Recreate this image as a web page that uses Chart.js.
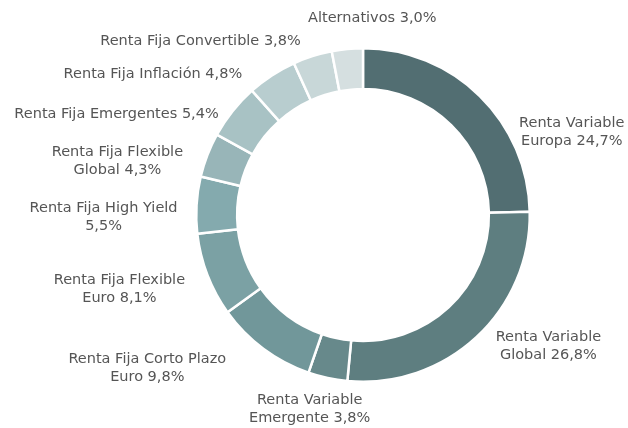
<!DOCTYPE html>
<html>
<head>
<meta charset="utf-8">
<script src="https://cdn.jsdelivr.net/npm/chart.js@4/dist/chart.umd.min.js"></script>
<style>
html,body{margin:0;padding:0;background:#fff;font-family:"DejaVu Sans";}
#wrap{width:628px;height:428px;position:relative;}
</style>
</head>
<body>
<div id="wrap"><canvas id="c"></canvas></div>
<script>
// Categories (multi-line labels) and values (%)
const categories = [
  ["Renta Variable", "Europa"],
  ["Renta Variable", "Global"],
  ["Renta Variable", "Emergente"],
  ["Renta Fija Corto Plazo", "Euro"],
  ["Renta Fija Flexible", "Euro"],
  ["Renta Fija High Yield", ""],
  ["Renta Fija Flexible", "Global"],
  ["Renta Fija Emergentes"],
  ["Renta Fija Inflación"],
  ["Renta Fija Convertible"],
  ["Alternativos"]
];
const values = [24.7, 26.8, 3.8, 9.8, 8.1, 5.5, 4.3, 5.4, 4.8, 3.8, 3.0];

const colors = [
  "#526e72", "#5e7e80", "#67898b", "#71979a", "#7ba1a4",
  "#84aaae", "#98b5b8", "#a8c2c4", "#b8cdcf", "#c8d7d8", "#d5dfe0"
];

// label position tweaks relative to arc outer mid-point (style, not data)
const labelOffsets = [
  [92, 36], [72, 9], [-18, 31], [-116, 20], [-88, 14],
  [-93, 12], [-90, 6], [-116, 3], [-119, -1], [-112, -15], [25, -31]
];

function fmt(v){ return v.toFixed(1).replace('.', ',') + '%'; }

const labelPlugin = {
  id: 'outerLabels',
  afterDatasetsDraw(chart) {
    const ctx = chart.ctx;
    const meta = chart.getDatasetMeta(0);
    ctx.save();
    ctx.font = '14.5px "DejaVu Sans"';
    ctx.fillStyle = '#555555';
    ctx.textAlign = 'center';
    ctx.textBaseline = 'middle';
    const lh = 18;
    meta.data.forEach((arc, i) => {
      const p = arc.getProps(['x','y','startAngle','endAngle','outerRadius'], true);
      const mid = (p.startAngle + p.endAngle) / 2;
      const ax = p.x + Math.cos(mid) * p.outerRadius + labelOffsets[i][0];
      const ay = p.y + Math.sin(mid) * p.outerRadius + labelOffsets[i][1];
      const lines = categories[i].slice();
      const last = lines.length - 1;
      lines[last] = (lines[last] ? lines[last] + ' ' : '') + fmt(values[i]);
      const y0 = ay - (lines.length - 1) * lh / 2;
      lines.forEach((t, k) => ctx.fillText(t, ax, y0 + k * lh));
    });
    ctx.restore();
  }
};

new Chart(document.getElementById('c'), {
  type: 'doughnut',
  data: {
    labels: categories.map(c => c.filter(Boolean).join(' ')),
    datasets: [{
      data: values,
      backgroundColor: colors,
      borderColor: '#ffffff',
      borderWidth: 2.5,
      hoverOffset: 0
    }]
  },
  options: {
    responsive: true,
    maintainAspectRatio: false,
    animation: false,
    cutout: '75.5%',
    layout: { padding: { left: 195, right: 97, top: 47, bottom: 45 } },
    plugins: { legend: { display: false }, tooltip: { enabled: false } }
  },
  plugins: [labelPlugin]
});
</script>
</body>
</html>
